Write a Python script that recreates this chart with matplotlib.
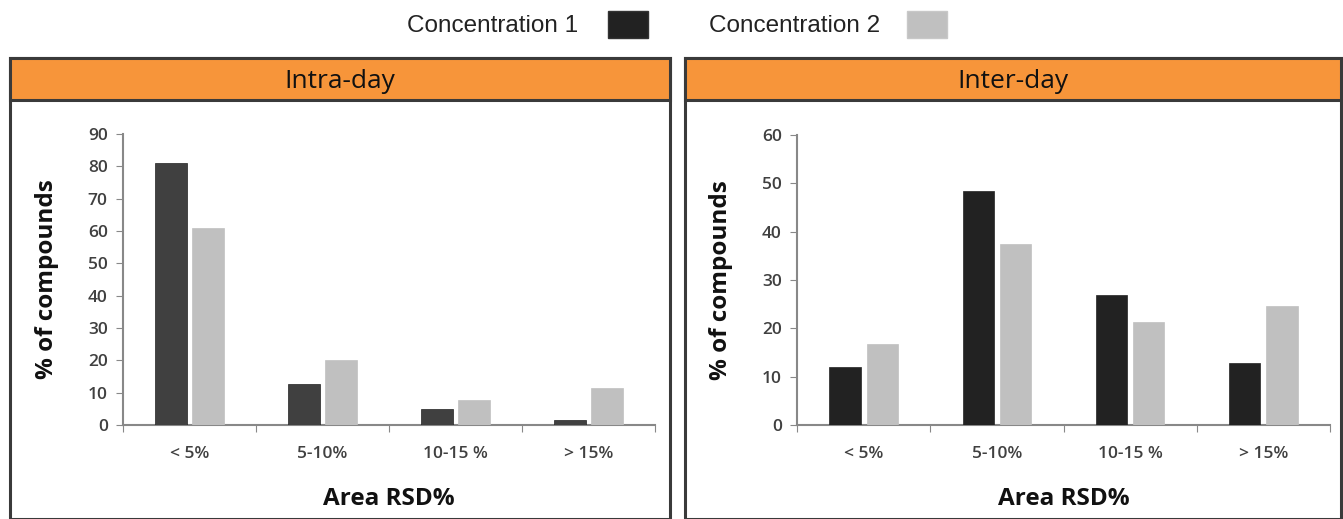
"""
  Área RSD% intra-day e inter-day, dos concentraciones.
"""

import numpy as np
import matplotlib
matplotlib.use('Agg')
import matplotlib.pyplot as plt
from matplotlib.patches import Rectangle

categorias = ['< 5%', '5-10%', '10-15 %', '> 15%']
intra_c1 = [81, 12.7, 5, 1.5]
intra_c2 = [61, 20, 7.8, 11.5]
inter_c1 = [12, 48.4, 27, 12.8]
inter_c2 = [16.8, 37.5, 21.3, 24.6]

W, H = 1343, 519
fig = plt.figure(figsize=(W/100, H/100), dpi=100)

def px(x0, y0, x1, y1):
  # caja en pixeles (arriba-izquierda) -> coordenadas de figura
  return [x0/W, 1-y1/H, (x1-x0)/W, (y1-y0)/H]

tick_font = 'Open Sans'
orange = '#f7953a'
border = '#3a3a3a'

# paneles con cabecera naranja
for (x0, x1, titulo) in [(10, 670, 'Intra-day'), (685, 1341, 'Inter-day')]:
  fig.patches.append(Rectangle((x0/W, 0), (x1-x0)/W, 1-58/H, transform=fig.transFigure,
                               facecolor='white', edgecolor=border, lw=2.2, zorder=-2))
  fig.patches.append(Rectangle((x0/W, 1-100/H), (x1-x0)/W, 42/H, transform=fig.transFigure,
                               facecolor=orange, edgecolor=border, lw=2.2, zorder=-1))
  fig.text((x0+x1)/2/W, 1-81/H, titulo, ha='center', va='center', fontsize=19,
           family='Open Sans', color='#111111')

# leyenda
fig.text(578/W, 1-26/H, 'Concentration 1', ha='right', va='center', fontsize=17.5,
         family='Liberation Sans', color='#222222')
fig.patches.append(Rectangle((608/W, 1-38/H), 40/W, 27/H, transform=fig.transFigure,
                             facecolor='#222222', edgecolor='#333333', lw=1))
fig.text(880/W, 1-26/H, 'Concentration 2', ha='right', va='center', fontsize=17.5,
         family='Liberation Sans', color='#222222')
fig.patches.append(Rectangle((907/W, 1-38/H), 40/W, 27/H, transform=fig.transFigure,
                             facecolor='#c0c0c0', edgecolor='#c8c8c8', lw=1))

x = np.arange(len(categorias))
bw = 0.235
off = 0.14

paneles = [
  (px(123, 134, 655, 425), intra_c1, intra_c2, '#404040', 90),
  (px(797, 135, 1330, 425), inter_c1, inter_c2, '#222222', 60),
]
for rect, c1, c2, col1, ymax in paneles:
  ax = fig.add_axes(rect)
  ax.set_facecolor('none')
  ax.bar(x-off, c1, bw, color=col1, edgecolor='#222222', lw=0.5, zorder=3)
  ax.bar(x+off, c2, bw, color='#c0c0c0', edgecolor='#c0c0c0', lw=0.5, zorder=3)
  ax.set_xlim(-0.5, 3.5)
  ax.set_ylim(0, ymax)
  ax.set_yticks(np.arange(0, ymax+1, 10))
  ax.set_xticks(np.arange(-0.5, 4, 1))
  ax.set_xticklabels([])
  ax.set_xticks(x, minor=True)
  ax.set_xticklabels(categorias, minor=True, fontsize=12.5, family=tick_font,
                     fontweight='semibold', color='#404040')
  ax.tick_params(axis='x', which='minor', length=0, pad=15)
  ax.tick_params(axis='x', which='major', length=5, color='#888888', direction='out')
  ax.tick_params(axis='y', length=5, color='#888888', direction='out', pad=6)
  for lab in ax.get_yticklabels():
    lab.set_family(tick_font)
    lab.set_fontsize(12.5)
    lab.set_fontweight('semibold')
    lab.set_color('#404040')
  for s in ['top', 'right']:
    ax.spines[s].set_visible(False)
  for s in ['left', 'bottom']:
    ax.spines[s].set_color('#888888')
    ax.spines[s].set_linewidth(1.5)
  ax.set_ylabel('% of compounds', fontsize=17.5, fontweight='bold', family='Open Sans',
                labelpad=21, color='#111111')
  ax.set_xlabel('Area RSD%', fontsize=17.5, fontweight='bold', family='Open Sans',
                labelpad=18, color='#111111')

plt.savefig('out.png', dpi=100)
